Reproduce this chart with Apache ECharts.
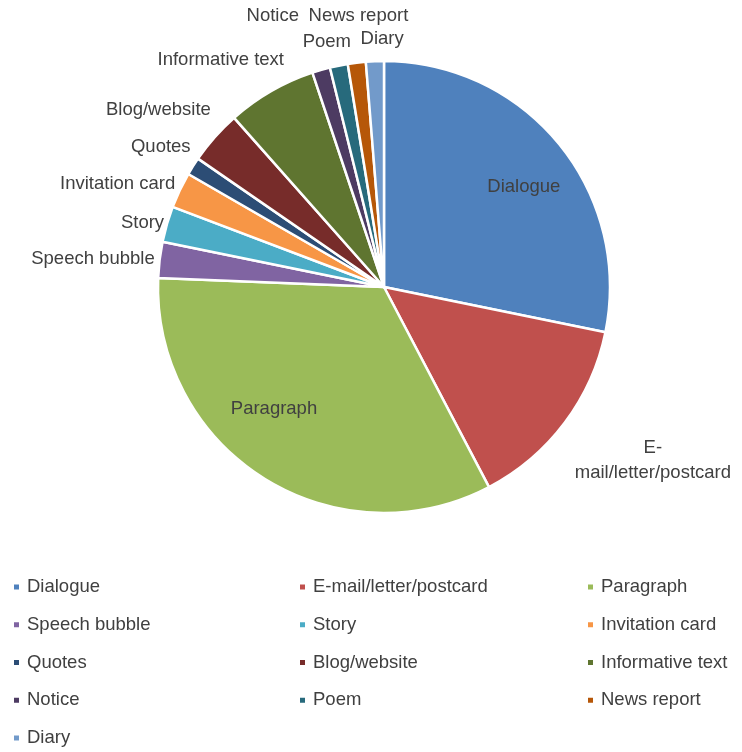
<!DOCTYPE html>
<html>
<head>
<meta charset="utf-8">
<script src="https://cdn.jsdelivr.net/npm/echarts@6/dist/echarts.min.js"></script>
<style>
  html, body { margin: 0; padding: 0; background: #fff; }
  #chart { width: 742px; height: 752px; }
</style>
</head>
<body>
<div id="chart"></div>
<script>
const categories = ['Dialogue', 'E-mail/letter/postcard', 'Paragraph', 'Speech bubble', 'Story',
  'Invitation card', 'Quotes', 'Blog/website', 'Informative text', 'Notice', 'Poem', 'News report', 'Diary'];
const values = [22, 11, 26, 2, 2, 2, 1, 3, 5, 1, 1, 1, 1];
const colors = ['#4F81BD', '#C0504D', '#9BBB59', '#8064A2', '#4BACC6', '#F79646', '#2C4D75',
  '#772C2A', '#5F7530', '#4D3B62', '#276A7C', '#B65708', '#729ACA'];
const insideLabels = ['Dialogue', 'Paragraph'];

// label placement tweaks (style only) to mimic the original "best fit" layout
const labelNudge = {
  'Dialogue': [50, -27],
  'Paragraph': [-48, 24],
  'E-mail/letter/postcard': [80, 35],
  'Speech bubble': [4, 0],
  'Story': [6, 0],
  'Invitation card': [4, -4],
  'Quotes': [6, -17],
  'Blog/website': [4, -25],
  'Informative text': [20, -28],
  'Notice': [-16, -50],
  'Poem': [18, -20],
  'News report': [57, -43],
  'Diary': [34, -18]
};

const FONT = '"Liberation Sans", Arial, sans-serif';
const TEXT = '#404040';

const data = categories.map((name, i) => ({
  name: name,
  value: values[i],
  itemStyle: { color: colors[i] },
  label: { position: insideLabels.includes(name) ? 'inside' : 'outside' }
}));

const columnLefts = [12, 298, 586];
const legends = columnLefts.map((left, c) => ({
  orient: 'vertical',
  left: left,
  top: 577,
  padding: 0,
  height: 175,
  itemWidth: 7,
  itemHeight: 7,
  itemGap: 17.75,
  icon: 'rect',
  selectedMode: false,
  textStyle: { fontFamily: FONT, fontSize: 18.5, color: TEXT, lineHeight: 20, padding: [0, 0, 0, 2] },
  data: categories.filter((_, i) => i % 3 === c)
}));

const chart = echarts.init(document.getElementById('chart'), null, { renderer: 'canvas' });
chart.setOption({
  animation: false,
  backgroundColor: '#fff',
  legend: legends,
  series: [{
    type: 'pie',
    center: [384, 287],
    radius: 226,
    startAngle: 90,
    clockwise: true,
    avoidLabelOverlap: false,
    data: data,
    itemStyle: { borderColor: '#fff', borderWidth: 2.5 },
    emphasis: { disabled: true },
    label: {
      show: true,
      fontFamily: FONT,
      fontSize: 18.5,
      color: TEXT,
      lineHeight: 25,
      formatter: p => p.name.length > 16 ? p.name.replace('-', '-\n') : p.name
    },
    labelLine: { show: false, length: 4, length2: 0 },
    labelLayout: function (params) {
      const name = categories[params.dataIndex];
      const n = labelNudge[name] || [0, 0];
      const out = { dx: n[0], dy: n[1] };
      if (name === 'E-mail/letter/postcard') out.align = 'center';
      return out;
    }
  }]
});
</script>
</body>
</html>
